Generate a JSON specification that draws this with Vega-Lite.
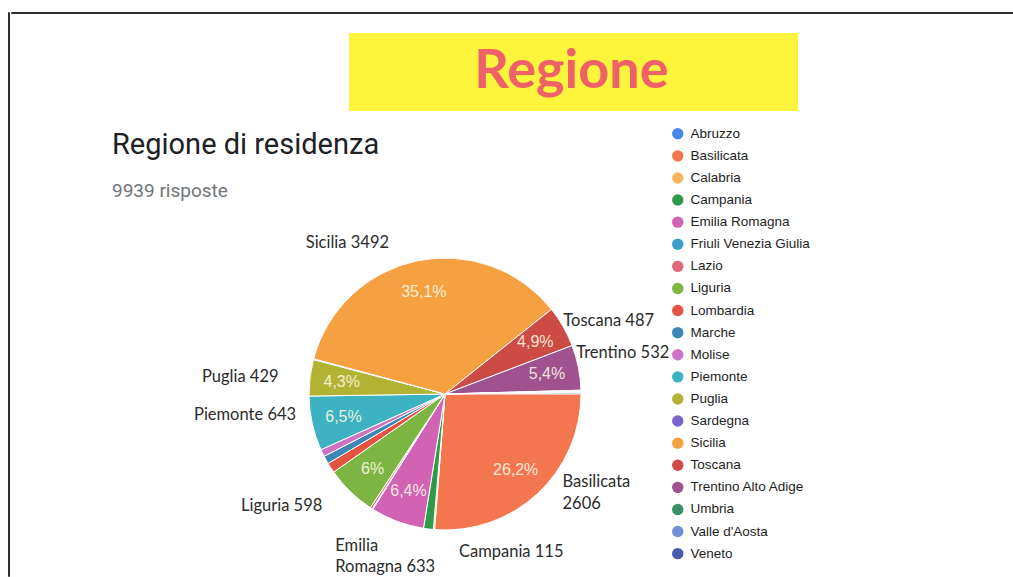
{
  "$schema": "https://vega.github.io/schema/vega-lite/v6.json",
  "background": "white",
  "padding": {"left": 7, "top": 11, "right": 0, "bottom": 0},
  "config": {"view": {"stroke": null}},
  "spacing": 0,
  "hconcat": [
    {
      "width": 1,
      "height": 564,
      "view": {"stroke": "#2e2e2e", "strokeWidth": 1},
      "data": {"values": []},
      "mark": "text",
      "encoding": {}
    },
    {
      "spacing": 19,
      "vconcat": [
        {
          "width": 1002,
          "height": 1,
          "view": {"stroke": "#2e2e2e", "strokeWidth": 1},
          "data": {"values": []},
          "mark": "text",
          "encoding": {}
        },
        {
          "spacing": 0,
          "hconcat": [
            {"width": 338, "height": 78, "data": {"values": []}, "mark": "text", "encoding": {}},
            {
              "width": 449,
              "height": 78,
              "view": {"fill": "#fdf53c", "stroke": null},
              "data": {"values": [{"testo": "Regione"}]},
              "mark": {"type": "text", "font": "Lato", "fontWeight": "bold", "fontSize": 54, "fill": "#ef6069", "baseline": "middle", "dx": -2},
              "encoding": {"text": {"field": "testo", "type": "nominal"}}
            }
          ]
        },
        {
          "width": 868,
          "height": 344,
          "title": {
            "text": "Regione di residenza",
            "subtitle": "9939 risposte",
            "anchor": "start",
            "frame": "group",
            "dx": 101,
            "offset": -18,
            "font": "Roboto",
            "fontSize": 29,
            "fontWeight": "normal",
            "color": "#202124",
            "subtitleFont": "Roboto",
            "subtitleFontSize": 19,
            "subtitleColor": "#70757a",
            "subtitlePadding": 22
          },
          "data": {
            "values": [
              {"regione": "Abruzzo", "risposte": 20, "pct": "", "etichetta": ""},
              {"regione": "Basilicata", "risposte": 2606, "pct": "26,2%", "etichetta": "Basilicata\n2606"},
              {"regione": "Calabria", "risposte": 15, "pct": "", "etichetta": ""},
              {"regione": "Campania", "risposte": 115, "pct": "", "etichetta": "Campania 115"},
              {"regione": "Emilia Romagna", "risposte": 633, "pct": "6,4%", "etichetta": "Emilia\nRomagna 633"},
              {"regione": "Friuli Venezia Giulia", "risposte": 10, "pct": "", "etichetta": ""},
              {"regione": "Lazio", "risposte": 25, "pct": "", "etichetta": ""},
              {"regione": "Liguria", "risposte": 598, "pct": "6%", "etichetta": "Liguria 598"},
              {"regione": "Lombardia", "risposte": 120, "pct": "", "etichetta": ""},
              {"regione": "Marche", "risposte": 95, "pct": "", "etichetta": ""},
              {"regione": "Molise", "risposte": 85, "pct": "", "etichetta": ""},
              {"regione": "Piemonte", "risposte": 643, "pct": "6,5%", "etichetta": "Piemonte 643"},
              {"regione": "Puglia", "risposte": 429, "pct": "4,3%", "etichetta": "Puglia 429"},
              {"regione": "Sardegna", "risposte": 10, "pct": "", "etichetta": ""},
              {"regione": "Sicilia", "risposte": 3492, "pct": "35,1%", "etichetta": "Sicilia 3492"},
              {"regione": "Toscana", "risposte": 487, "pct": "4,9%", "etichetta": "Toscana 487"},
              {"regione": "Trentino Alto Adige", "risposte": 532, "pct": "5,4%", "etichetta": "Trentino 532"},
              {"regione": "Umbria", "risposte": 9, "pct": "", "etichetta": ""},
              {"regione": "Valle d'Aosta", "risposte": 5, "pct": "", "etichetta": ""},
              {"regione": "Veneto", "risposte": 10, "pct": "", "etichetta": ""}
            ]
          },
          "encoding": {
            "theta": {"field": "risposte", "type": "quantitative", "stack": true, "scale": {"range": [1.558153, 7.841338]}},
            "order": {"field": "regione", "type": "ordinal", "sort": "ascending"}
          },
          "layer": [
            {
              "mark": {"type": "arc", "outerRadius": 136, "stroke": "#ffffff", "strokeWidth": 1},
              "encoding": {
                "color": {
                  "field": "regione",
                  "type": "nominal",
                  "scale": {
                    "domain": ["Abruzzo", "Basilicata", "Calabria", "Campania", "Emilia Romagna", "Friuli Venezia Giulia", "Lazio", "Liguria", "Lombardia", "Marche", "Molise", "Piemonte", "Puglia", "Sardegna", "Sicilia", "Toscana", "Trentino Alto Adige", "Umbria", "Valle d'Aosta", "Veneto"],
                    "range": ["#4a86e8", "#f4764f", "#f9b55a", "#2f9a48", "#d263b4", "#3a9fd0", "#e2667a", "#7db543", "#e3533f", "#3d86b8", "#cd72c8", "#3db2c2", "#b2b334", "#7c62cc", "#f5a142", "#cd4b45", "#a0528e", "#3b8f68", "#6f8fd8", "#4a5bb0"]
                  },
                  "legend": {
                    "orient": "none",
                    "legendX": 663,
                    "legendY": 115,
                    "title": null,
                    "padding": 0,
                    "direction": "vertical",
                    "columns": 1,
                    "symbolType": "circle",
                    "symbolSize": 130,
                    "symbolStrokeWidth": 0,
                    "labelFont": "Liberation Sans",
                    "labelFontSize": 13.5,
                    "labelColor": "#1e1e1e",
                    "labelOffset": 6,
                    "rowPadding": 7.1,
                    "symbolLimit": 0
                  }
                }
              }
            },
            {
              "mark": {"type": "text", "radius": 104, "font": "Liberation Sans", "fontSize": 16, "fill": "#fff9e3", "opacity": 0.88},
              "encoding": {"text": {"field": "pct", "type": "nominal"}}
            },
            {
              "mark": {"type": "text", "radius": 170, "font": "Lato", "fontSize": 16.5, "fill": "#2b2b2b", "align": "center", "baseline": "middle", "dx": -63, "dy": 15},
              "encoding": {"text": {"condition": {"test": "datum.regione == 'Sicilia'", "field": "etichetta", "type": "nominal"}, "value": ""}}
            },
            {
              "mark": {"type": "text", "radius": 170, "font": "Lato", "fontSize": 16.5, "fill": "#2b2b2b", "align": "center", "baseline": "middle", "dx": 16, "dy": 11},
              "encoding": {"text": {"condition": {"test": "datum.regione == 'Toscana'", "field": "etichetta", "type": "nominal"}, "value": ""}}
            },
            {
              "mark": {"type": "text", "radius": 170, "font": "Lato", "fontSize": 16.5, "fill": "#2b2b2b", "align": "center", "baseline": "middle", "dx": 11, "dy": -8},
              "encoding": {"text": {"condition": {"test": "datum.regione == 'Trentino Alto Adige'", "field": "etichetta", "type": "nominal"}, "value": ""}}
            },
            {
              "mark": {"type": "text", "radius": 170, "font": "Lato", "fontSize": 16.5, "fill": "#2b2b2b", "align": "left", "baseline": "middle", "lineBreak": "\n", "lineHeight": 22, "dx": 2, "dy": -37},
              "encoding": {"text": {"condition": {"test": "datum.regione == 'Basilicata'", "field": "etichetta", "type": "nominal"}, "value": ""}}
            },
            {
              "mark": {"type": "text", "radius": 170, "font": "Lato", "fontSize": 16.5, "fill": "#2b2b2b", "align": "center", "baseline": "middle", "dx": 87, "dy": -11},
              "encoding": {"text": {"condition": {"test": "datum.regione == 'Campania'", "field": "etichetta", "type": "nominal"}, "value": ""}}
            },
            {
              "mark": {"type": "text", "radius": 170, "font": "Lato", "fontSize": 16.5, "fill": "#2b2b2b", "align": "left", "baseline": "middle", "lineBreak": "\n", "lineHeight": 21, "dx": -50, "dy": -7},
              "encoding": {"text": {"condition": {"test": "datum.regione == 'Emilia Romagna'", "field": "etichetta", "type": "nominal"}, "value": ""}}
            },
            {
              "mark": {"type": "text", "radius": 170, "font": "Lato", "fontSize": 16.5, "fill": "#2b2b2b", "align": "center", "baseline": "middle", "dx": -45, "dy": -10},
              "encoding": {"text": {"condition": {"test": "datum.regione == 'Liguria'", "field": "etichetta", "type": "nominal"}, "value": ""}}
            },
            {
              "mark": {"type": "text", "radius": 170, "font": "Lato", "fontSize": 16.5, "fill": "#2b2b2b", "align": "center", "baseline": "middle", "dx": -34, "dy": -16},
              "encoding": {"text": {"condition": {"test": "datum.regione == 'Piemonte'", "field": "etichetta", "type": "nominal"}, "value": ""}}
            },
            {
              "mark": {"type": "text", "radius": 170, "font": "Lato", "fontSize": 16.5, "fill": "#2b2b2b", "align": "center", "baseline": "middle", "dx": -36, "dy": 3},
              "encoding": {"text": {"condition": {"test": "datum.regione == 'Puglia'", "field": "etichetta", "type": "nominal"}, "value": ""}}
            }
          ]
        }
      ]
    }
  ]
}
